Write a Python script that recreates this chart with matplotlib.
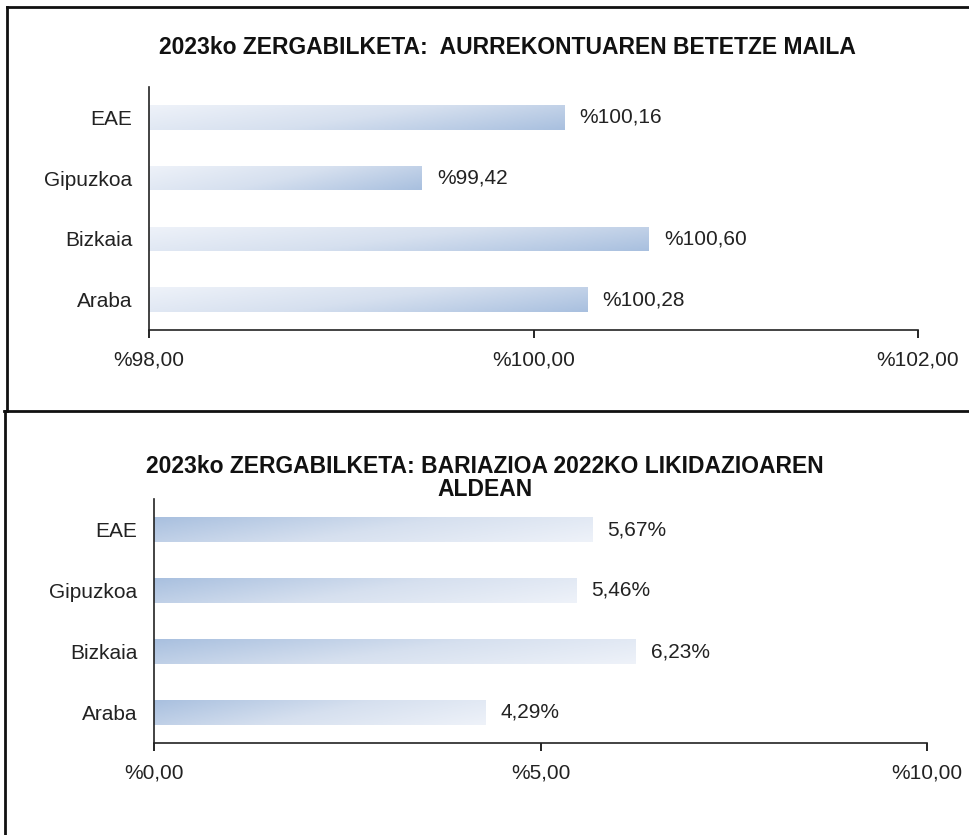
import matplotlib.pyplot as plt
import numpy as np
from matplotlib.colors import LinearSegmentedColormap
from matplotlib.patches import Rectangle
from matplotlib.lines import Line2D

plt.rcParams['font.family'] = ['Liberation Sans', 'DejaVu Sans']

# data
categories = ['Araba', 'Bizkaia', 'Gipuzkoa', 'EAE']
betetze = [100.28, 100.60, 99.42, 100.16]
bariazioa = [4.29, 6.23, 5.46, 5.67]

title1 = '2023ko ZERGABILKETA:  AURREKONTUAREN BETETZE MAILA'
title2 = '2023ko ZERGABILKETA: BARIAZIOA 2022KO LIKIDAZIOAREN\nALDEAN'
ticks1 = [98, 100, 102]
ticks2 = [0, 5, 10]

cmap = LinearSegmentedColormap.from_list('blues', ['#eef2f9', '#d6e0ef', '#a9c0df'])


def gradient_bar(ax, y, x0, x1, h, left_dark):
    xs = np.linspace(0, 1, 120)
    ys = np.linspace(0, 1, 20)
    X, Y = np.meshgrid(xs, ys)  # Y: 0 top row -> 1 bottom row
    if left_dark:
        dark = 0.75 * (1 - X) + 0.25 * (1 - Y)
    else:
        dark = 0.72 * X + 0.28 * Y
    rect = Rectangle((x0, y - h / 2), x1 - x0, h, facecolor='none', edgecolor='none')
    ax.add_patch(rect)
    im = ax.imshow(dark, cmap=cmap, vmin=0, vmax=1, origin='upper',
                   extent=(x0, x1, y - h / 2, y + h / 2), aspect='auto',
                   interpolation='bilinear', zorder=2)
    im.set_clip_path(rect)


def draw_chart(ax, values, xmin, xmax, ticks, fmt, left_dark):
    pos = np.arange(len(categories))
    bars = ax.barh(pos, [v - xmin for v in values], left=xmin, height=0.4,
                   color='none', edgecolor='none')
    for b in bars:
        gradient_bar(ax, b.get_y() + b.get_height() / 2, b.get_x(),
                     b.get_x() + b.get_width(), b.get_height(), left_dark)
    for p, v in zip(pos, values):
        ax.annotate(fmt(v), (v, p), xytext=(11, 0), textcoords='offset points',
                    va='center', ha='left', fontsize=15, color='#222222')
    ax.set_xlim(xmin, xmax)
    ax.set_ylim(-0.5, len(categories) - 0.5)
    ax.set_yticks(pos)
    ax.set_yticklabels(categories, fontsize=15, color='#222222')
    ax.set_xticks(ticks)
    ax.tick_params(axis='y', length=0, pad=12)
    ax.tick_params(axis='x', length=6, width=1.2, pad=9, labelsize=15,
                   labelcolor='#222222')
    for s in ['top', 'right']:
        ax.spines[s].set_visible(False)
    for s in ['left', 'bottom']:
        ax.spines[s].set_linewidth(1.2)
        ax.spines[s].set_color('#222222')


fig = plt.figure(figsize=(9.69, 8.35), dpi=100)

ax1 = fig.add_axes([149 / 969, 1 - 330 / 835, 769 / 969, 243 / 835])
draw_chart(ax1, betetze, 98, 102, ticks1,
           lambda v: '%' + f'{v:.2f}'.replace('.', ','), left_dark=False)
ax1.set_xticklabels(['%' + f'{t:.2f}'.replace('.', ',') for t in ticks1])

ax2 = fig.add_axes([154 / 969, 1 - 743 / 835, 773 / 969, 244 / 835])
draw_chart(ax2, bariazioa, 0, 10, ticks2,
           lambda v: f'{v:.2f}'.replace('.', ',') + '%', left_dark=True)
ax2.set_xticklabels(['%' + f'{t:.2f}'.replace('.', ',') for t in ticks2])

fig.text(507 / 969, 1 - 47 / 835, title1, ha='center', va='center',
         fontsize=16.5, fontweight='bold', color='#111111')
fig.text(485 / 969, 1 - 478 / 835, title2, ha='center', va='center',
         fontsize=16.5, fontweight='bold', linespacing=1.0, color='#111111')

# chart borders
lw = 2
fig.add_artist(Line2D([7 / 969, 7 / 969], [1 - 7 / 835, 1 - 411 / 835], color='#111111', lw=lw))
fig.add_artist(Line2D([7 / 969, 1], [1 - 7 / 835, 1 - 7 / 835], color='#111111', lw=lw))
fig.add_artist(Line2D([4 / 969, 1], [1 - 411 / 835, 1 - 411 / 835], color='#111111', lw=lw))
fig.add_artist(Line2D([5 / 969, 5 / 969], [1 - 411 / 835, 0], color='#111111', lw=lw))

plt.savefig('out.png', dpi=100)
